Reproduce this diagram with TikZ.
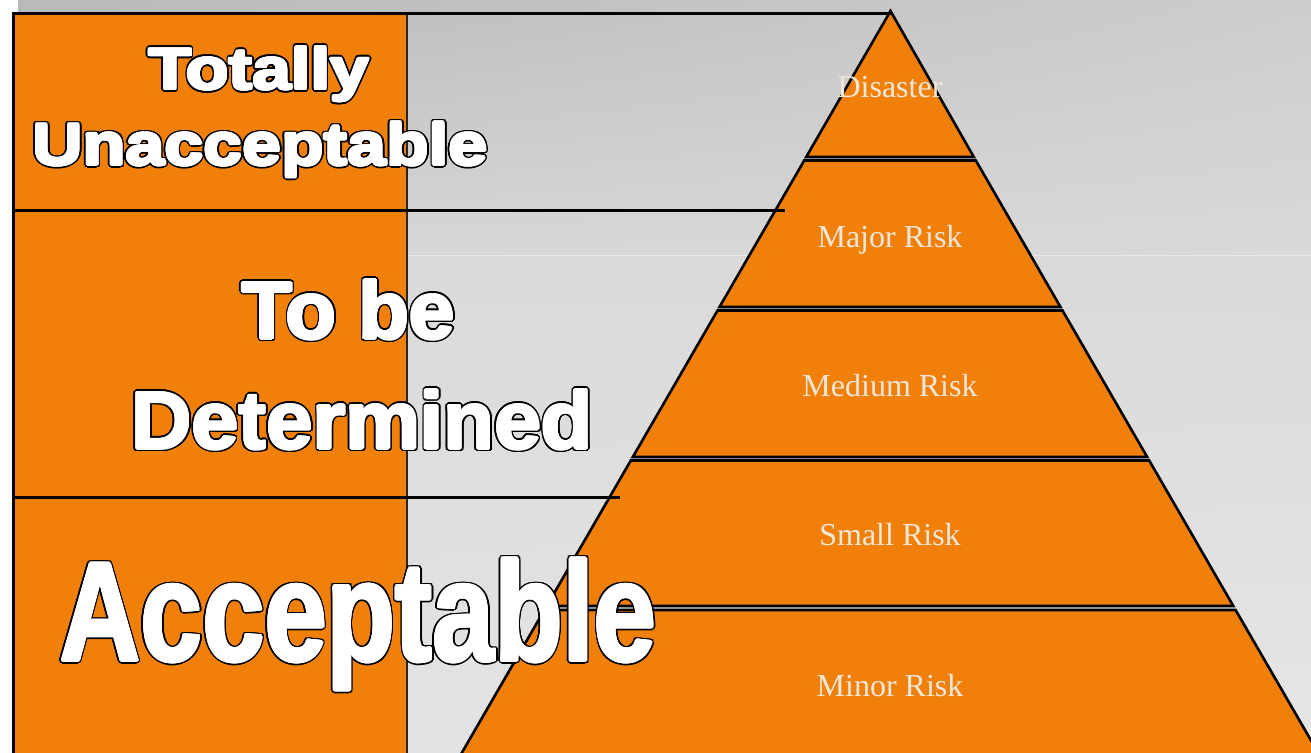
\documentclass[tikz,border=0pt]{standalone}
\usepackage{fontspec}
\setmainfont{Liberation Serif}
\newfontfamily\arl{Liberation Sans}
\usetikzlibrary{calc,shadings}
\definecolor{org}{HTML}{F0800A}
\definecolor{lbl}{HTML}{EFE7D9}
\definecolor{bgA}{HTML}{B9B9B9}
\definecolor{bgB}{HTML}{CDCDCD}
\definecolor{bgC}{HTML}{D6D6D6}
\definecolor{bgD}{HTML}{D9D9D9}
\definecolor{bgE}{HTML}{DADADA}
\definecolor{bgF}{HTML}{D9D9D9}
\definecolor{bgG}{HTML}{E2E2E2}
\definecolor{bgH}{HTML}{E6E6E6}
\definecolor{bgL}{HTML}{EAEAEA}
\tikzset{
  layer/.style={fill=org, draw=black, line width=2.6pt, line join=miter},
  rule/.style={draw=black, line width=2.8pt},
  risk/.style={text=lbl, font=\fontsize{32}{36}\selectfont, anchor=base, inner sep=0pt},
  big/.style={anchor=base, inner sep=0pt},
}
% name, x, y, font, text : white fattened text with black outline
\newcommand{\outlined}[5]{%
  \foreach \a in {0,15,...,345}{
    \node[big, text=black] (#1s\a) at ($(#2,#3)+(\a:3.0pt)$) {#4#5};
  }
  \foreach \a in {0,30,...,330}{
    \node[big, text=white] (#1w\a) at ($(#2,#3)+(\a:1.4pt)$) {#4#5};
  }
  \node[big, text=white] (#1) at (#2,#3) {#4#5};
}
\newcommand{\bigA}{\fontsize{70}{80}\selectfont\arl\bfseries}
\newcommand{\bigB}{\fontsize{83}{100}\selectfont\arl\bfseries}
\newcommand{\bigC}{\fontsize{141.5}{170}\selectfont\arl\bfseries}
\begin{document}
\begin{tikzpicture}[x=1pt,y=-1pt]
\useasboundingbox (0,0) rectangle (1311,752);
\clip (0,0) rectangle (1311,752);
% background
\fill[white] (0,0) rectangle (1311,752);
\shade[upper left=bgA, upper right=bgB, lower left=bgC, lower right=bgD]
  (18,0) rectangle (1311,255);
\shade[upper left=bgE, upper right=bgF, lower left=bgG, lower right=bgH]
  (18,255) rectangle (1311,752);
\draw[bgL, line width=1pt] (18,255) -- (1311,255);
% orange column
\fill[org] (13,13) rectangle (407,760);
\draw[black, line width=2.7pt] (13.7,13) -- (13.7,760);
\draw[black!85, line width=1.4pt] (407,13) -- (407,760);
% pyramid
\coordinate (apex) at (890.5,11);
\draw[layer] (apex) -- (973.8,157) -- (806.2,157) -- cycle;
\draw[layer] (804.2,160.5) -- (975.8,160.5) -- (1060.5,307) -- (719.5,307) -- cycle;
\draw[layer] (717.5,310.5) -- (1062.5,310.5) -- (1147.2,457) -- (632.8,457) -- cycle;
\draw[layer] (630.8,460.5) -- (1149.2,460.5) -- (1233.3,606) -- (546.7,606) -- cycle;
\draw[layer] (544.4,610) -- (1235.6,610) -- (1333.9,780) -- (446.1,780) -- cycle;
\node[risk] (disaster) at (890,97) {Disaster};
\node[risk] (major) at (890,247) {Major Risk};
\node[risk] (medium) at (890,396) {Medium Risk};
\node[risk] (small) at (890,545) {Small Risk};
\node[risk] (minor) at (890,696) {Minor Risk};
% rules
\coordinate (r0) at (12.3,13.7);
\coordinate (r1a) at (12.3,210.7);
\coordinate (r1b) at (785,210.7);
\coordinate (r2a) at (12.3,497.5);
\coordinate (r2b) at (620,497.5);
\draw[rule] (r0) -- (apex |- r0);
\draw[rule] (r1a) -- (r1b);
\draw[rule] (r2a) -- (r2b);
% big labels
\outlined{totally}{259}{89.5}{\bigA}{\scalebox{1}[0.84]{Totally}}
\outlined{unacc}{260}{165}{\bigA}{\scalebox{1}[0.84]{Unacceptable}}
\outlined{tobe}{348.5}{338.7}{\bigB}{\scalebox{0.99}[0.98]{To be}}
\outlined{determ}{362}{448.7}{\bigB}{\scalebox{1.01}[0.98]{Determined}}
\outlined{accept}{358}{661}{\bigC}{\scalebox{0.79}[1]{Acceptable}}
\end{tikzpicture}
\end{document}
